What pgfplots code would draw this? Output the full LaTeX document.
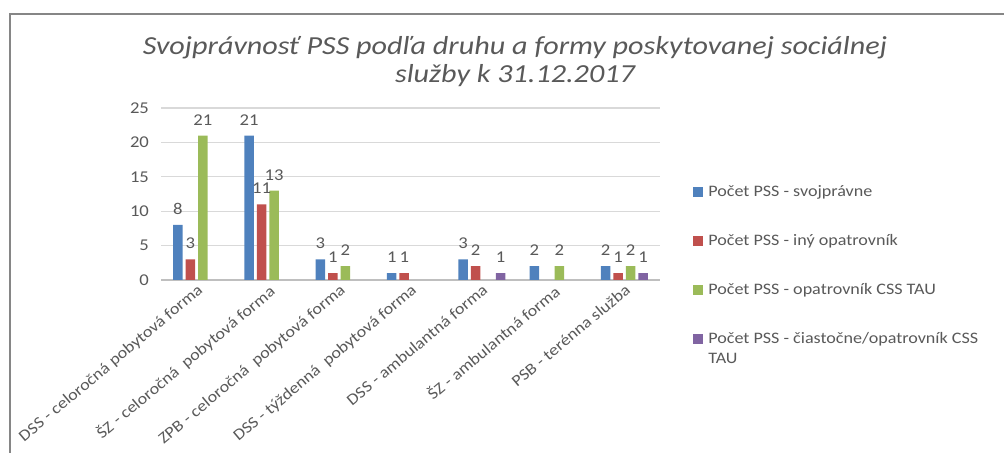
\documentclass[border=0pt]{standalone}
\usepackage{pgfplots}
\pgfplotsset{compat=1.18}
\usepackage{fontspec}
\setmainfont{Carlito}[FakeStretch=1.13]
\newfontfamily\titlefont{Carlito}[FakeStretch=1.16]
\definecolor{cblue}{HTML}{4F81BD}
\definecolor{cred}{HTML}{C0504D}
\definecolor{cgreen}{HTML}{9BBB59}
\definecolor{cpurple}{HTML}{8064A2}
\definecolor{textgray}{HTML}{595959}
\definecolor{gridgray}{HTML}{D9D9D9}
\definecolor{axisgray}{HTML}{BFBFBF}
\definecolor{framegray}{HTML}{868686}
\begin{document}
\begin{tikzpicture}
\useasboundingbox (0,0) rectangle (502pt,226.5pt);
\draw[framegray, line width=1pt] (5pt,-2pt) -- (5pt,219.5pt) -- (504pt,219.5pt);
\node[align=center, text=textgray, font=\titlefont\itshape\fontsize{13}{14}\selectfont] at (257.5pt,195.5pt)
  {Svojprávnosť PSS podľa druhu a formy poskytovanej sociálnej\\služby k 31.12.2017};
\begin{axis}[
  at={(80.5pt,86.5pt)}, anchor=south west,
  scale only axis, width=249.5pt, height=86pt,
  ybar=1.5pt, bar width=4.75pt,
  xmin=-0.5, xmax=6.5, ymin=0, ymax=25,
  xtick={0,1,2,3,4,5,6},
  xticklabels={DSS - celoročná pobytová forma, ŠZ - celoročná\ \ pobytová forma, ZPB - celoročná\ \ pobytová forma, DSS - týždenná\ \ pobytová forma, DSS - ambulantná forma, ŠZ - ambulantná forma, PSB - terénna služba},
  x tick label style={rotate=40, anchor=north east, font=\fontsize{8}{9}\selectfont, text=textgray, inner sep=1pt},
  ytick={0,5,10,15,20,25},
  yticklabel style={font=\fontsize{8.25}{9}\selectfont, text=textgray, xshift=-2.5pt},
  /pgf/number format/assume math mode=true,
  ymajorgrids, grid style={color=gridgray, line width=0.6pt},
  axis x line*=bottom, axis y line*=left,
  x axis line style={draw=axisgray, -, line width=0.6pt},
  y axis line style={draw=none},
  major tick length=0pt,
  nodes near coords,
  nodes near coords style={font=\fontsize{8.25}{9}\selectfont, text=textgray, anchor=south, inner sep=0pt, yshift=5pt},
  legend image code/.code={\fill[#1] (0pt,-2.5pt) rectangle (5pt,2.5pt);},
  legend cell align=left,
  legend style={at={(1.0661,0.558)}, anchor=north west, draw=none, fill=none, inner sep=0pt,
    row sep=16.5pt, font=\fontsize{8}{10}\selectfont, text=textgray,
    nodes={inner sep=0pt, text height=6pt, text depth=2pt},
    /tikz/every odd column/.style={column sep=2.5pt}},
]
\addplot[fill=cblue, draw=none] coordinates {(0,8) (1,21) (2,3) (3,1) (4,3) (5,2) (6,2)};
\addlegendentry{Počet PSS - svojprávne}
\addplot[fill=cred, draw=none] coordinates {(0,3) (1,11) (2,1) (3,1) (4,2) (6,1)};
\addlegendentry{Počet PSS - iný opatrovník}
\addplot[fill=cgreen, draw=none] coordinates {(0,21) (1,13) (2,2) (5,2) (6,2)};
\addlegendentry{Počet PSS - opatrovník CSS TAU}
\addplot[fill=cpurple, draw=none] coordinates {(4,1) (6,1)};
\addlegendentry{\parbox[t]{160pt}{Počet PSS - čiastočne/opatrovník CSS\\TAU}}
\end{axis}
\end{tikzpicture}
\end{document}
